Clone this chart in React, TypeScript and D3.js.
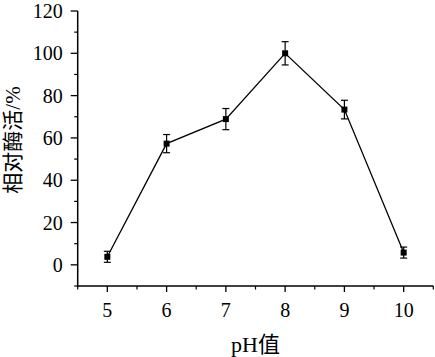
import React from "react";
import * as d3 from "d3";

const phValues = [5, 6, 7, 8, 9, 10];
const activity = [3.8, 57.3, 68.9, 100, 73.4, 5.8];
const errors = [2.6, 4.3, 5.0, 5.5, 4.4, 2.6];
const yTicks = [0, 20, 40, 60, 80, 100, 120];
const xTicks = [5, 6, 7, 8, 9, 10];

const W = 435;
const H = 357;
const font = "Liberation Serif, Noto Sans CJK SC, serif";

export default function App() {
  const x = d3.scaleLinear().domain([4.5, 10.5]).range([77.7, 433.3]);
  const y = d3.scaleLinear().domain([-10, 120]).range([286, 11]);
  const line = d3
    .line<number>()
    .x((_, i) => x(phValues[i]))
    .y((d) => y(d));
  const yMinor = d3.range(-10, 121, 10).filter((v) => !yTicks.includes(v));
  const xMinor = d3.range(4.5, 10.51, 1);
  const x0 = x.range()[0];
  const y0 = y.range()[0];
  return (
    <svg
      width={W}
      height={H}
      style={{ position: "absolute", left: 0, top: 0, background: "#fff", fontFamily: font }}
    >
      <rect width={W} height={H} fill="#fff" />
      {/* axes */}
      <line x1={x0} x2={x0} y1={y(120)} y2={y0 + 0.7} stroke="#000" strokeWidth={1.5} />
      <line x1={x0 - 0.7} x2={x.range()[1]} y1={y0} y2={y0} stroke="#000" strokeWidth={1.5} />
      {yTicks.map((t) => (
        <line key={"yt" + t} x1={x0 - 7} x2={x0} y1={y(t)} y2={y(t)} stroke="#000" strokeWidth={1.3} />
      ))}
      {yTicks.map((t) => (
        <text
          key={"yl" + t}
          x={x0 - 15}
          y={y(t) + 7}
          textAnchor="end"
          fontSize={20}
        >
          {String(t)}
        </text>
      ))}
      {yMinor.map((t) => (
        <line key={"ym" + t} x1={x0 - 3.5} x2={x0} y1={y(t)} y2={y(t)} stroke="#000" strokeWidth={1.2} />
      ))}
      {xTicks.map((t) => (
        <line key={"xt" + t} x1={x(t)} x2={x(t)} y1={y0} y2={y0 + 6} stroke="#000" strokeWidth={1.3} />
      ))}
      {xTicks.map((t) => (
        <text
          key={"xl" + t}
          x={x(t)}
          y={y0 + 30.5}
          textAnchor="middle"
          fontSize={20}
        >
          {String(t)}
        </text>
      ))}
      {xMinor.map((t) => (
        <line key={"xm" + t} x1={x(t)} x2={x(t)} y1={y0} y2={y0 + 3.5} stroke="#000" strokeWidth={1.2} />
      ))}
      {/* labels */}
      <text
        x={(x.range()[0] + x.range()[1]) / 2}
        y={352}
        textAnchor="middle"
        fontSize={22}
      >
        pH值
      </text>
      <text
        transform={`translate(20,140) rotate(-90)`}
        textAnchor="middle"
        fontSize={21}
      >
        相对酶活/%
      </text>
      {/* line */}
      <path d={line(activity) || ""} fill="none" stroke="#000" strokeWidth={1.3} />
      {/* error bars */}
      {activity.map((v, i) => {
        const cx = x(phValues[i]);
        const e = errors[i];
        return (
          <g key={"e" + i} stroke="#000" strokeWidth={1.2}>
            <line x1={cx} x2={cx} y1={y(v + e)} y2={y(v - e)} />
            <line x1={cx - 3.5} x2={cx + 3.5} y1={y(v + e)} y2={y(v + e)} />
            <line x1={cx - 3.5} x2={cx + 3.5} y1={y(v - e)} y2={y(v - e)} />
          </g>
        );
      })}
      {activity.map((v, i) => (
        <rect
          key={"m" + i}
          x={x(phValues[i]) - 3}
          y={y(v) - 3}
          width={6}
          height={6}
          fill="#000"
        />
      ))}
    </svg>
  );
}
